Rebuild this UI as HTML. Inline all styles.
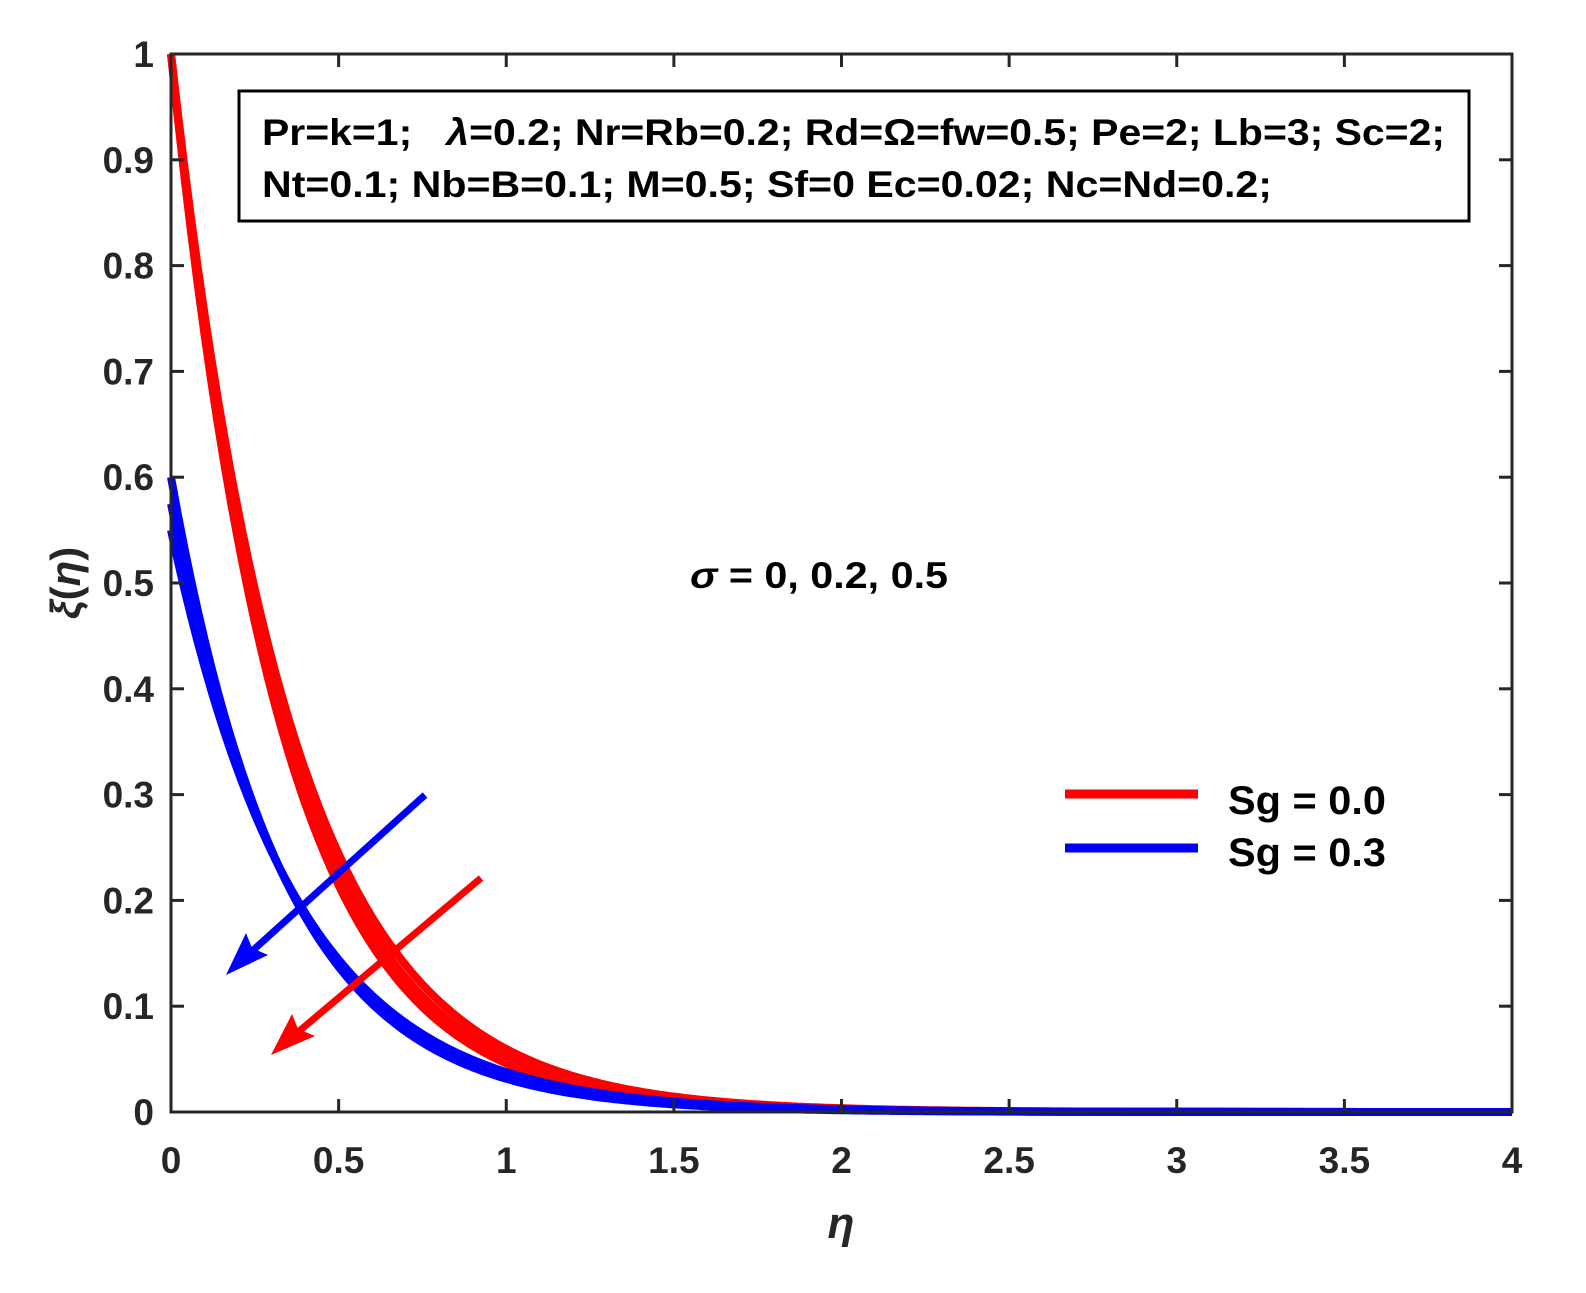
<!DOCTYPE html>
<html><head><meta charset="utf-8"><style>
body{margin:0;background:#fff}
svg text{font-family:"Liberation Sans",sans-serif;font-weight:bold;fill:#262626}
</style></head><body>
<svg id="s" width="1586" height="1288" xmlns="http://www.w3.org/2000/svg">
<rect x="0" y="0" width="1586" height="1288" fill="#fff"/>
<g id="curves"></g>
<rect x="171" y="54" width="1341" height="1058" fill="none" stroke="#262626" stroke-width="3"/>
<g id="ticks" stroke="#262626" stroke-width="3"></g>
<g id="labels" font-size="37"></g>
<rect x="239" y="91" width="1230" height="130" fill="#fff" stroke="#000" stroke-width="3"/>
<text x="262" y="145" font-size="37" textLength="1183" lengthAdjust="spacingAndGlyphs" style="fill:#000">Pr=k=1;&#160;&#160; <tspan font-style="italic">λ</tspan>=0.2; Nr=Rb=0.2; Rd=Ω=fw=0.5; Pe=2; Lb=3; Sc=2;</text>
<text x="262" y="197" font-size="37" textLength="1010" lengthAdjust="spacingAndGlyphs" style="fill:#000">Nt=0.1; Nb=B=0.1; M=0.5; Sf=0 Ec=0.02; Nc=Nd=0.2;</text>
<text x="690" y="588" font-size="37" textLength="258" lengthAdjust="spacingAndGlyphs" style="fill:#000"><tspan font-style="italic">σ</tspan> = 0, 0.2, 0.5</text>
<line x1="1065" y1="794" x2="1198" y2="794" stroke="#f00" stroke-width="9"/>
<line x1="1065" y1="848" x2="1198" y2="848" stroke="#00f" stroke-width="9"/>
<text x="1228" y="814" font-size="40" textLength="158" lengthAdjust="spacingAndGlyphs" style="fill:#000">Sg = 0.0</text>
<text x="1228" y="866" font-size="40" textLength="158" lengthAdjust="spacingAndGlyphs" style="fill:#000">Sg = 0.3</text>
<line x1="425" y1="795" x2="240" y2="962" stroke="#00f" stroke-width="7"/>
<polygon points="226,975 246,933 252,948 268,955" fill="#00f"/>
<line x1="481" y1="878" x2="285" y2="1043" stroke="#f00" stroke-width="7"/>
<polygon points="271,1055 292,1014 298,1029 315,1036" fill="#f00"/>
<text x="841" y="1238" font-size="44" font-style="italic" text-anchor="middle">η</text>
<text transform="translate(80,583) rotate(-90)" font-size="42" text-anchor="middle"><tspan font-style="italic">ξ</tspan>(<tspan font-style="italic">η</tspan>)</text>
</svg>
<script>
var X=function(v){return 171+v*335.25},Y=function(v){return 1112-v*1058};
var g=document.getElementById('curves'),ns='http://www.w3.org/2000/svg';
function curve(a0,a,col){var d='';for(var i=0;i<=400;i++){var e=i/100;var v=a0*Math.exp(-a*e);d+=(i?'L':'M')+X(e).toFixed(1)+' '+Y(v).toFixed(1);}
var p=document.createElementNS(ns,'path');p.setAttribute('d',d);p.setAttribute('fill','none');p.setAttribute('stroke',col);p.setAttribute('stroke-width','8');g.appendChild(p);}
[[1,2.82],[1,2.95],[1,3.08]].forEach(function(c){curve(c[0],c[1],'#f00')});
[[0.6,2.95],[0.575,2.82],[0.55,2.68]].forEach(function(c){curve(c[0],c[1],'#00f')});
var t=document.getElementById('ticks'),l=document.getElementById('labels');
function ln(x1,y1,x2,y2){var e=document.createElementNS(ns,'line');e.setAttribute('x1',x1);e.setAttribute('y1',y1);e.setAttribute('x2',x2);e.setAttribute('y2',y2);t.appendChild(e);}
function tx(x,y,s,a){var e=document.createElementNS(ns,'text');e.setAttribute('x',x);e.setAttribute('y',y);e.setAttribute('text-anchor',a);e.textContent=s;l.appendChild(e);}
for(var i=0;i<=8;i++){var x=X(i*0.5);ln(x,1112,x,1099);ln(x,54,x,67);tx(x,1173,String(i*0.5),'middle');}
for(var j=0;j<=10;j++){var y=Y(j/10);ln(171,y,184,y);ln(1512,y,1499,y);tx(154,y+13,j==10?'1':(j==0?'0':(j/10).toFixed(1)),'end');}
</script>
</body></html>
